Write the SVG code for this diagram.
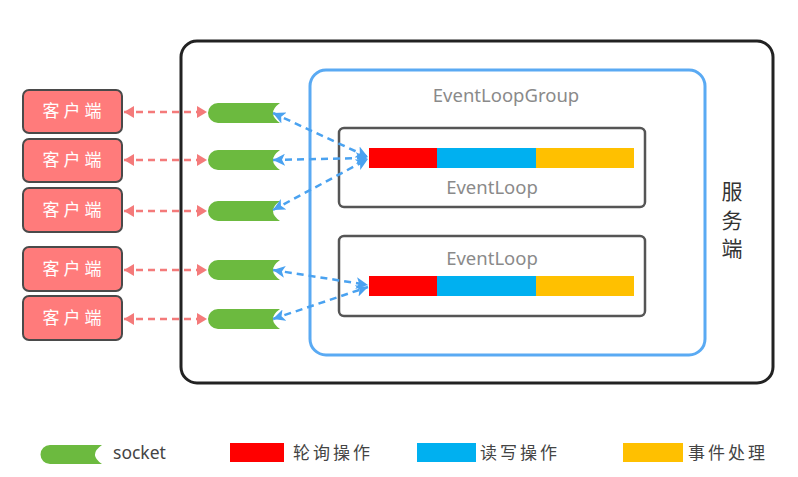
<svg xmlns="http://www.w3.org/2000/svg" xmlns:xlink="http://www.w3.org/1999/xlink" width="798" height="477" viewBox="0 0 798 477">
<style>
.client rect{fill:#ff7b7b;stroke:#4a4a4a;stroke-width:2}
.client text{fill:#fff;font-family:"Noto Sans CJK SC",sans-serif;font-size:17px;letter-spacing:4px;text-anchor:middle}
.sock{fill:#6cba3f}
.red{stroke:#f47a7a;stroke-width:2.5;stroke-dasharray:7,5;fill:none;marker-start:url(#ra);marker-end:url(#ra)}
.blue{stroke:#4aa2f0;stroke-width:2.5;stroke-dasharray:7,5;fill:none;marker-start:url(#ba);marker-end:url(#ba)}
.lbl{fill:#8a8a8a;font-family:"Noto Sans","Liberation Sans",sans-serif;font-size:18.5px;text-anchor:middle}
.el{fill:#fff;stroke:#555;stroke-width:2.5}
.leg{fill:#444;font-family:"Noto Sans","Noto Sans CJK SC",sans-serif;font-size:17.5px}
.legc{fill:#444;font-family:"Noto Sans CJK SC",sans-serif;font-size:17px;letter-spacing:3px}
</style>
<defs>
<path id="sock" d="M218,-10 H280 Q266,0 280,10 H218 A10,10 0 0 1 218,-10 Z"/>
<marker id="ra" markerUnits="userSpaceOnUse" markerWidth="11" markerHeight="12" refX="10" refY="6" orient="auto-start-reverse" viewBox="0 0 11 12">
<path d="M0,0 L10,6 L0,12 Z" fill="#f47a7a"/>
</marker>
<marker id="ba" markerUnits="userSpaceOnUse" markerWidth="13" markerHeight="12" refX="12" refY="6" orient="auto-start-reverse" viewBox="0 0 13 12">
<path d="M0,0 L12,6 L0,12 L3,6 Z" fill="#4aa2f0"/>
</marker>
</defs>
<rect width="798" height="477" fill="#fff"/>

<g id="server">
<rect x="181" y="41" width="592" height="342" rx="16" fill="#fff" stroke="#222" stroke-width="3"/>
<text x="732" y="199" font-family="Noto Sans CJK SC,sans-serif" font-size="21" fill="#333" text-anchor="middle">服</text>
<text x="732" y="228" font-family="Noto Sans CJK SC,sans-serif" font-size="21" fill="#333" text-anchor="middle">务</text>
<text x="732" y="256" font-family="Noto Sans CJK SC,sans-serif" font-size="21" fill="#333" text-anchor="middle">端</text>
</g>

<g id="eventloopgroup">
<rect x="310" y="70" width="395" height="285" rx="16" fill="none" stroke="#5aaaf3" stroke-width="3"/>
<text class="lbl" x="506" y="102">EventLoopGroup</text>
</g>

<g id="eventloop1">
<rect class="el" x="339" y="128" width="306" height="79" rx="5"/>
<rect x="369" y="148" width="68" height="20" fill="#ff0000"/>
<rect x="437" y="148" width="99" height="20" fill="#00b0f0"/>
<rect x="536" y="148" width="98" height="20" fill="#ffc000"/>
<text class="lbl" x="492" y="194">EventLoop</text>
</g>

<g id="eventloop2">
<rect class="el" x="339" y="236" width="306" height="80" rx="5"/>
<rect x="369" y="276" width="68" height="20" fill="#ff0000"/>
<rect x="437" y="276" width="99" height="20" fill="#00b0f0"/>
<rect x="536" y="276" width="98" height="20" fill="#ffc000"/>
<text class="lbl" x="492" y="265">EventLoop</text>
</g>

<g id="client1" class="client"><rect x="23" y="90" width="99" height="43" rx="6"/><text x="74" y="117">客户端</text></g>
<g id="client2" class="client"><rect x="23" y="139" width="99" height="43" rx="6"/><text x="74" y="166">客户端</text></g>
<g id="client3" class="client"><rect x="23" y="188" width="99" height="44" rx="6"/><text x="74" y="216">客户端</text></g>
<g id="client4" class="client"><rect x="23" y="247" width="99" height="44" rx="6"/><text x="74" y="275">客户端</text></g>
<g id="client5" class="client"><rect x="23" y="296" width="99" height="44" rx="6"/><text x="74" y="324">客户端</text></g>

<g id="socket1"><use href="#sock" class="sock" y="113"/></g>
<g id="socket2"><use href="#sock" class="sock" y="160"/></g>
<g id="socket3"><use href="#sock" class="sock" y="211"/></g>
<g id="socket4"><use href="#sock" class="sock" y="270"/></g>
<g id="socket5"><use href="#sock" class="sock" y="319"/></g>

<g id="connectors">
<line class="red" x1="124" y1="112" x2="207" y2="112"/>
<line class="red" x1="124" y1="160" x2="207" y2="160"/>
<line class="red" x1="124" y1="211" x2="207" y2="211"/>
<line class="red" x1="124" y1="270" x2="207" y2="270"/>
<line class="red" x1="124" y1="319" x2="207" y2="319"/>
<line class="blue" x1="273" y1="113" x2="368" y2="157"/>
<line class="blue" x1="273" y1="160" x2="368" y2="158"/>
<line class="blue" x1="273" y1="210" x2="368" y2="159"/>
<line class="blue" x1="273" y1="270" x2="368" y2="285"/>
<line class="blue" x1="273" y1="319" x2="368" y2="287"/>
</g>

<g id="legend">
<path class="sock" d="M50,445 H102 Q88,454.5 102,464 H50 A9.5,9.5 0 0 1 50,445 Z"/>
<text class="leg" x="113" y="459">socket</text>
<rect x="230" y="443" width="54" height="19" fill="#ff0000"/>
<text class="legc" x="293" y="459">轮询操作</text>
<rect x="417" y="443" width="59" height="19" fill="#00b0f0"/>
<text class="legc" x="480" y="459">读写操作</text>
<rect x="623" y="443" width="60" height="19" fill="#ffc000"/>
<text class="legc" x="688" y="459">事件处理</text>
</g>
</svg>
